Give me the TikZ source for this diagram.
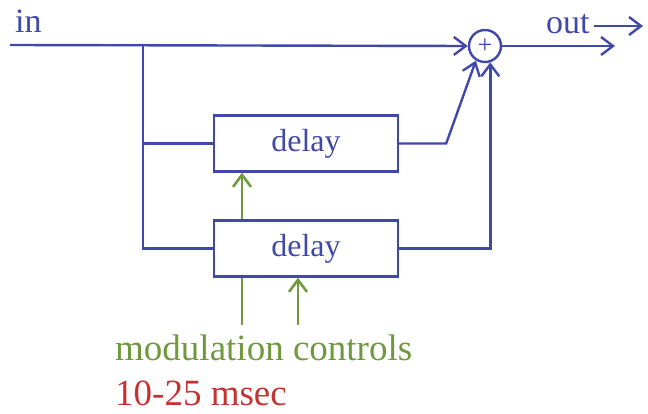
\documentclass[tikz,border=0pt]{standalone}
\usepackage{fontspec}
\setmainfont{Liberation Serif}
\usetikzlibrary{arrows.meta,positioning,calc}
\definecolor{chorusBlue}{RGB}{64, 72, 170}
\definecolor{chorusGreen}{RGB}{112, 152, 62}
\definecolor{chorusRed}{RGB}{196, 50, 50}

\begin{document}
\begin{tikzpicture}[
  x=1pt,y=-1pt,
  delaybox/.style={
    draw=chorusBlue,
    line width=2.4pt,
    minimum width=184pt,
    minimum height=56pt,
    text=chorusBlue,
    font=\fontsize{32}{38}\selectfont
  },
  label/.style={text=chorusBlue,inner sep=0pt,font=\fontsize{34}{40}\selectfont},
  wire/.style={chorusBlue,line width=2.4pt},
  arrow/.style={wire,-{Straight Barb[length=12pt,width=18pt,line width=2.4pt]}},
  modarrow/.style={chorusGreen,line width=2.6pt,-{Straight Barb[length=12pt,width=18pt,line width=2.6pt]}}
]
  \useasboundingbox (0,0) rectangle (648,414);
  \node[label,anchor=base west] (inlbl) at (15,33) {in};
  \coordinate (instart) at (10,45);
  \coordinate (split) at (143,45);
  \node[draw=chorusBlue,line width=2.4pt,circle,minimum size=32pt,inner sep=0pt,
        text=chorusBlue,font=\fontsize{26}{26}\selectfont] (adder) at (485,46) {+};
  \node[delaybox] (delay1) at (306,143.5) {delay};
  \node[delaybox] (delay2) at (306,248.5) {delay};
  \node[label,anchor=base west] (outlbl) at (546,34) {out};
  \coordinate (outend) at (615,46);
  \coordinate (outtip) at (643,26);
  \coordinate (bend) at ($(delay1.east)+(47,0)$);

  % main path
  \draw[arrow] (instart) -- (adder.west);
  \draw[arrow] (adder.east) -- (outend);
  \draw[arrow] (outlbl.east |- outtip) ++(4,0) -- (outtip);

  % delayed taps
  \draw[wire] (split) |- (delay2.west);
  \draw[wire] (split |- delay1.west) -- (delay1.west);
  \draw[arrow] (delay1.east) -- (bend) -- (adder.-122);
  \draw[arrow] (delay2.east) -| (adder.-72);

  % modulation
  \node[text=chorusGreen,inner sep=0pt,anchor=base west,
        font=\fontsize{37}{42}\selectfont] (modlbl) at (115,360) {modulation controls};
  \node[text=chorusRed,inner sep=0pt,anchor=base west,
        font=\fontsize{37}{42}\selectfont] (msec) at (115,405) {10-25 msec};
  \coordinate (modleft) at (242,325);
  \coordinate (modright) at (298,325);
  \draw[chorusGreen,line width=2.6pt] (modleft) -- (modleft |- delay2.south);
  \draw[modarrow] (modleft |- delay2.north) -- (modleft |- delay1.south);
  \draw[modarrow] (modright) -- (modright |- delay2.south);
\end{tikzpicture}
\end{document}
